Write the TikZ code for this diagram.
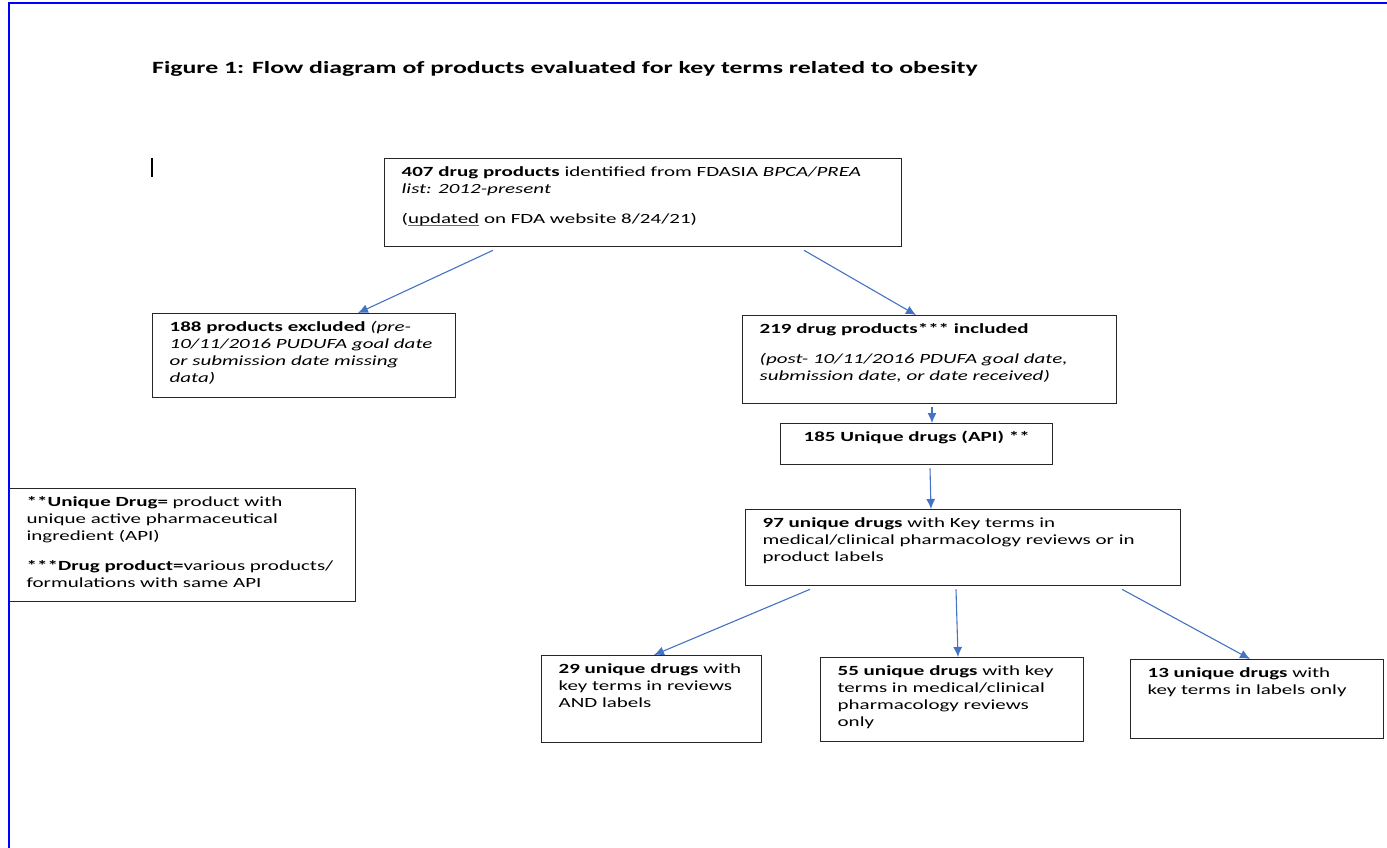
\documentclass[tikz,border=0pt]{standalone}
\usepackage{fontspec}
\setmainfont{Carlito}[FakeStretch=1.5]
\usetikzlibrary{arrows.meta}
\definecolor{flowblue}{HTML}{4472C4}
\definecolor{boxline}{HTML}{262626}
\newcommand\stagetext[3]{\parbox[c][#2pt][t]{\dimexpr#1pt-34pt\relax}{\raggedright\rule{0pt}{18pt}#3}}
\newcommand\gramline[1]{\setbox0\hbox{#1}\rlap{\color{flowblue}\rule[-2.5pt]{\wd0}{1pt}}\box0\relax}
\begin{document}
\begin{tikzpicture}[x = 1pt, y = -1pt,
		stagebox/.style = {draw = boxline, line width = 1.3pt, inner xsep = 17pt, inner ysep = 0pt, anchor = north west, font = \fontsize{14}{17}\selectfont},
		flow/.style = {draw = flowblue, line width = 1.1pt, -{Latex[length = 10pt, width = 9pt]}}]
	\useasboundingbox (0, 0) rectangle (1387, 848);
	\draw[blue, line width = 2pt] (8.5, 848)--(8.5, 3.5)--(1387, 3.5);
	\node[anchor = base west, inner sep = 0pt, font = \fontsize{17.2}{21}\selectfont\bfseries] (title) at (152, 74) {Figure 1: Flow diagram of products evaluated for key terms related to obesity};
	\draw[line width = 1.2pt] (152, 158)--(152, 177);
	\node[stagebox] (top) at (384, 158) {\stagetext{517}{88}{\textbf{407 drug products} identified from FDASIA \textit{BPCA/PREA}\\ \textit{list: 2012-present}\\[13pt] (\gramline{updated} on FDA website 8/24/21)}};
	\node[stagebox] (excl) at (152, 313) {\stagetext{303}{84}{\textbf{188 products excluded} \textit{(pre-}\\ \textit{10/11/2016 PUDUFA goal date}\\ \textit{or submission date missing}\\ \textit{data)}}};
	\node[stagebox] (incl) at (742, 315) {\stagetext{374}{88}{\textbf{219 drug products*** included}\\[13pt] \textit{(post- 10/11/2016 PDUFA goal date,}\\ \textit{submission date, or date received)}}};
	\node[stagebox] (api) at (780, 423) {\stagetext{272}{41}{\centering\textbf{185 Unique drugs (API) **}}};
	\node[stagebox] (key) at (745, 509) {\stagetext{435}{76}{\textbf{97 unique drugs} with Key terms in\\ medical/clinical pharmacology reviews or in\\ product labels}};
	\node[stagebox] (both) at (541, 655) {\stagetext{220}{87}{\textbf{29 unique drugs} with\\ key terms in reviews\\ AND labels}};
	\node[stagebox] (rev) at (820, 657) {\stagetext{263}{84}{\textbf{55 unique drugs} with key\\ terms in medical/clinical\\ pharmacology reviews\\ only}};
	\node[stagebox] (lab) at (1130, 659) {\stagetext{253}{79}{\textbf{13 unique drugs} with\\ key terms in labels only}};
	\node[stagebox] (note) at (9, 488) {\stagetext{346}{113}{\textbf{**Unique Drug=} product with\\ unique active pharmaceutical\\ ingredient (API)\\[13pt] \textbf{***Drug product=}various products/\\ formulations with same API}};
	\foreach \a/\p/\b/\q in {top/109/excl/206, top/420/incl/174, incl/190/api/152, api/150/key/186, key/65/both/113, key/211/rev/138, key/377/lab/120}
	\draw[flow] ([shift = {(\p, 3)}]\a.south west)--([shift = {(\q, 0)}]\b.north west);
\end{tikzpicture}
\end{document}
